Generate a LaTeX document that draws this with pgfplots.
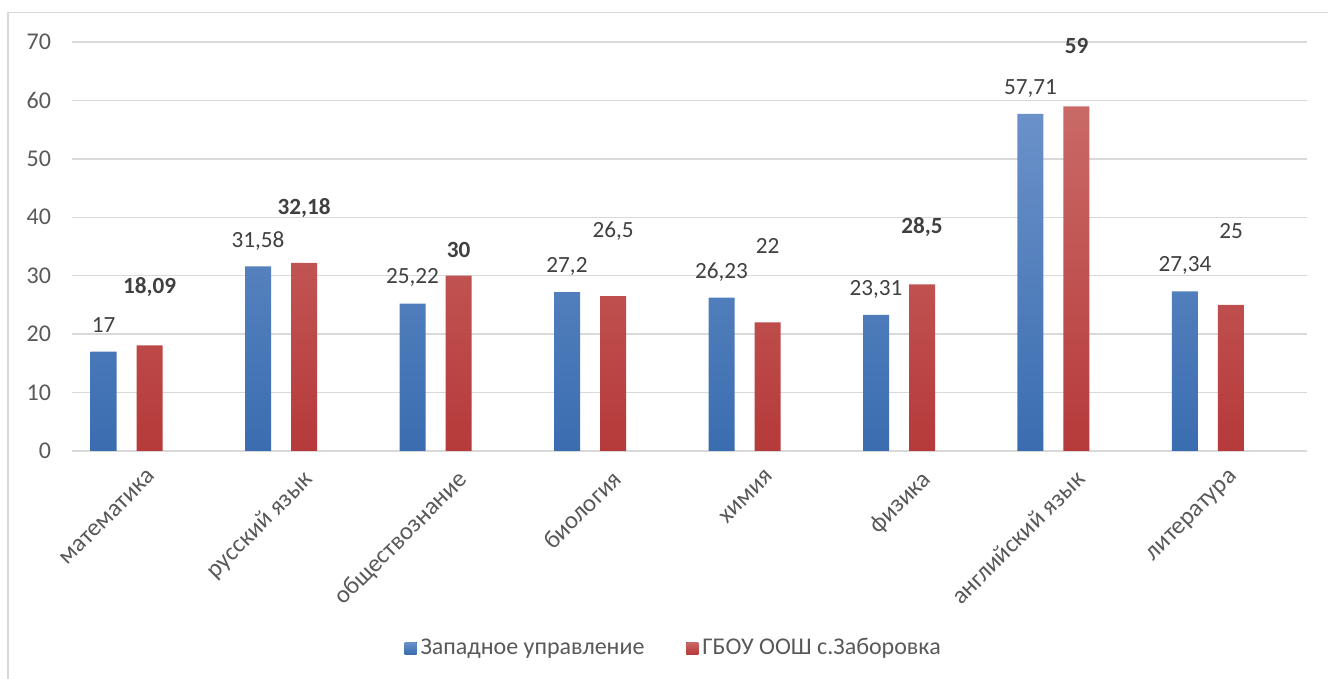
\documentclass[border=0pt]{standalone}
\usepackage{fontspec}
\setmainfont{Carlito}
\usepackage{pgfplots}
\pgfplotsset{compat=1.18}

\definecolor{blueTop}{HTML}{6B91C9}
\definecolor{blueBot}{HTML}{3A6DB0}
\definecolor{redTop}{HTML}{C96A67}
\definecolor{redBot}{HTML}{B63A3A}
\definecolor{gridgray}{HTML}{D9D9D9}
\definecolor{txt}{HTML}{595959}
\definecolor{lbl}{HTML}{404040}

\begin{document}
\begin{tikzpicture}
\useasboundingbox (-36pt,-114pt) rectangle (628pt,225.5pt);
% chart frame (only left and top edges are visible)
\draw[gridgray, line width=0.8pt] (-32pt,-114pt) -- (-32pt,219.25pt) -- (628pt,219.25pt);

\begin{axis}[
    at={(0,0)}, anchor=south west,
    scale only axis,
    width=617.5pt, height=204.5pt,
    xmin=-0.353, xmax=7.641,
    ymin=0, ymax=70,
    ytick={0,10,...,70},
    xtick={0,...,7},
    xticklabels={математика,русский язык,обществознание,биология,химия,физика,английский язык,литература},
    axis line style={draw=none},
    major tick length=0pt,
    ymajorgrids,
    grid style={gridgray, line width=0.75pt},
    font=\fontsize{11.6}{13}\selectfont,
    /pgf/number format/assume math mode=true,
    yticklabel style={txt, font=\fontsize{12}{14}\selectfont, xshift=-7pt},
    xticklabel style={txt, font=\fontsize{12.4}{14}\selectfont,
        xshift=10.5pt, yshift=-4pt, rotate=45, anchor=north east},
    legend style={at={(0.488,-0.4817)}, anchor=center, draw=none,
        legend columns=2, text=txt, font=\fontsize{12}{14}\selectfont,
        /tikz/every even column/.append style={column sep=19pt}},
    legend image code/.code={\fill[#1] (0pt,-3pt) rectangle (6pt,3pt);},
    clip=false,
]
\addplot[ybar, bar width=13pt, bar shift=-11.5pt, draw=none,
    top color=blueTop, bottom color=blueBot] coordinates {
    (0,17) (1,31.58) (2,25.22) (3,27.2) (4,26.23) (5,23.31) (6,57.71) (7,27.34)};
\addlegendentry{Западное управление}
\addplot[ybar, bar width=13pt, bar shift=11.5pt, draw=none,
    top color=redTop, bottom color=redBot] coordinates {
    (0,18.09) (1,32.18) (2,30) (3,26.5) (4,22) (5,28.5) (6,59) (7,25)};
\addlegendentry{ГБОУ ООШ с.Заборовка}

% data labels, placed where the reference shows them
\addplot[only marks, mark=none, forget plot,
    nodes near coords, point meta=explicit symbolic,
    nodes near coords style={anchor=center, text=lbl}] coordinates {
    (-0.149,21.6) [17]
    (0.851,36.0) [31,58]
    (1.851,29.7) [25,22]
    (2.851,31.5) [27,2]
    (3.851,30.6) [26,23]
    (4.851,27.7) [23,31]
    (5.851,62.1) [57,71]
    (6.851,31.8) [27,34]
};
\addplot[only marks, mark=none, forget plot,
    nodes near coords, point meta=explicit symbolic,
    nodes near coords style={anchor=center, text=lbl}] coordinates {
    (0.149,28.1) [\textbf{18,09}]
    (1.149,41.6) [\textbf{32,18}]
    (2.149,34.4) [\textbf{30}]
    (3.149,37.7) [26,5]
    (4.149,35.1) [22]
    (5.149,38.4) [\textbf{28,5}]
    (6.149,69.3) [\textbf{59}]
    (7.149,37.7) [25]
};
\end{axis}
\end{tikzpicture}
\end{document}
